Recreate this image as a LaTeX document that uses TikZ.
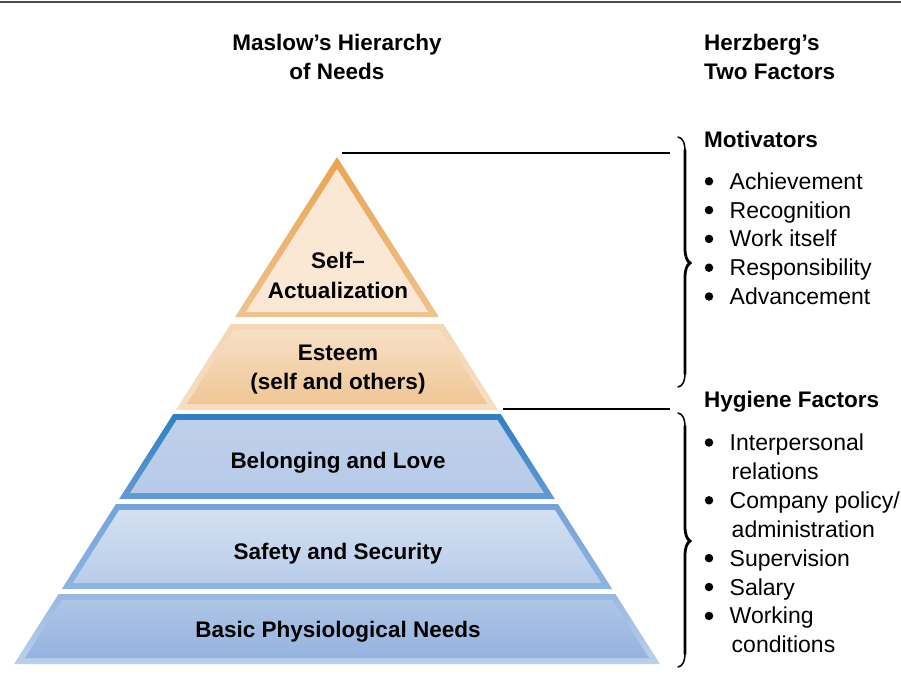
\documentclass[tikz,border=0pt]{standalone}
\usepackage{fontspec}
\setmainfont{Liberation Sans}
\usetikzlibrary{calc}
\definecolor{saBand}{HTML}{E8A553}
\definecolor{saBandB}{HTML}{EFC28E}
\definecolor{saFill}{HTML}{FAE7D4}
\definecolor{esBand}{HTML}{F4D7B4}
\definecolor{esBandB}{HTML}{F6DEC2}
\definecolor{esFillT}{HTML}{F7E0C5}
\definecolor{esFillB}{HTML}{EFC696}
\definecolor{loveBand}{HTML}{2F7FC1}
\definecolor{loveBandB}{HTML}{639AD1}
\definecolor{loveFillT}{HTML}{BDCFEA}
\definecolor{loveFillB}{HTML}{B7CAE8}
\definecolor{sfBand}{HTML}{74A3D8}
\definecolor{sfBandB}{HTML}{8EB4E0}
\definecolor{sfFillT}{HTML}{D4E0F2}
\definecolor{sfFillB}{HTML}{B8CCEA}
\definecolor{physBand}{HTML}{98B8E1}
\definecolor{physBandB}{HTML}{BBD0EC}
\definecolor{physFillT}{HTML}{AEC5E6}
\definecolor{physFillB}{HTML}{94B3DE}
\newcommand\pyrband[6]{%
 \pgfmathsetmacro\hwT{0.637*(#1-157)}%
 \pgfmathsetmacro\hwB{0.637*(#2-157)}%
 \pgfmathsetmacro\hwTi{0.637*(#1+6-157)-7.1}%
 \pgfmathsetmacro\hwBi{0.637*(#2-6-157)-7.1}%
 \path[top color=#3,bottom color=#4] ({337-\hwT},#1) -- ({337+\hwT},#1) -- ({337+\hwB},#2) -- ({337-\hwB},#2) -- cycle;
 \path[top color=#5,bottom color=#6] ({337-\hwTi},{#1+6}) -- ({337+\hwTi},{#1+6}) -- ({337+\hwBi},{#2-6}) -- ({337-\hwBi},{#2-6}) -- cycle;
}
% brace: #1 top y, #2 tip y, #3 bottom y
\newcommand\hzbrace[3]{%
 \draw[bracethin] (678,#1) .. controls (683,{#1+1}) and (685,{#1+6}) .. (685,{#1+15}) -- (685,{#2-15}) .. controls (685,{#2-6}) and (687,{#2-2}) .. (691,#2) .. controls (687,{#2+2}) and (685,{#2+6}) .. (685,{#2+15}) -- (685,{#3-15}) .. controls (685,{#3-6}) and (683,{#3-1}) .. (678,#3);
 \draw[bracethick] (685,{#1+13}) -- (685,{#2-15}) .. controls (685,{#2-6}) and (687,{#2-2}) .. (690,#2) .. controls (687,{#2+2}) and (685,{#2+6}) .. (685,{#2+15}) -- (685,{#3-13});
}
\begin{document}
\begin{tikzpicture}[x=1pt,y=-1pt,
  hd/.style={font=\fontsize{22.5}{27}\selectfont\bfseries, inner sep=0pt},
  lbl/.style={font=\fontsize{22.5}{27}\selectfont\bfseries, inner sep=0pt, anchor=base},
  body/.style={font=\fontsize{23}{28}\selectfont, inner sep=0pt, anchor=base west},
  bul/.style={circle, fill=black, inner sep=0pt, minimum size=8.5pt},
  conn/.style={line width=1.3pt, black},
  bracethin/.style={line width=1.5pt, black, line cap=round, line join=round},
  bracethick/.style={line width=2.8pt, black, line cap=round, line join=round}]
\useasboundingbox (0,0) rectangle (901,690);
\fill[white] (0,0) rectangle (901,690);
\draw[line width=1.8pt, color=black!70] (0,2) -- (901,2);

% headings
\node[hd, anchor=base] (mas1) at (337,51) {Maslow’s Hierarchy};
\node[hd, anchor=base] (mas2) at (337,80) {of Needs};
\node[hd, anchor=base west] (her1) at (704,51) {Herzberg’s};
\node[hd, anchor=base west] (her2) at (704,80) {Two Factors};

% pyramid: self-actualization triangle
\path[top color=saBand,bottom color=saBandB] (337,157) -- (438.9,317) -- (235.1,317) -- cycle;
\pgfmathsetmacro\hwSi{0.637*(312-157)-7.6}
\path[fill=saFill] (337,169) -- ({337+\hwSi},312) -- ({337-\hwSi},312) -- cycle;
\pyrband{324}{410}{esBand}{esBandB}{esFillT}{esFillB}
\pyrband{414}{499}{loveBand}{loveBandB}{loveFillT}{loveFillB}
\pyrband{504}{589}{sfBand}{sfBandB}{sfFillT}{sfFillB}
\pyrband{594}{664}{physBand}{physBandB}{physFillT}{physFillB}

% pyramid labels
\node[lbl] (sa1) at (338,268.5) {Self–};
\node[lbl] (sa2) at (338,298.3) {Actualization};
\node[lbl] (es1) at (338,360.7) {Esteem};
\node[lbl] (es2) at (338,389) {(self and others)};
\node[lbl] (bl) at (338,468.3) {Belonging and Love};
\node[lbl] (sf) at (338,559.3) {Safety and Security};
\node[lbl] (bp) at (338,637.3) {Basic Physiological Needs};

% connector lines
\coordinate (apexR) at (342,153);
\coordinate (l1end) at (670,153);
\coordinate (esR) at (503,409);
\coordinate (l2end) at (670,409);
\draw[conn] (apexR) -- (l1end);
\draw[conn] (esR) -- (l2end);

% braces
\hzbrace{137}{263}{387}
\hzbrace{413}{541}{667}

% Herzberg lists
\node[hd, anchor=base west] (mot) at (704,147) {Motivators};
\foreach \i/\yy/\tt in {1/189.3/Achievement, 2/218.1/Recognition, 3/246.9/Work itself, 4/275.7/Responsibility, 5/304.5/Advancement}{
  \node[bul] (mb\i) at (709,{\yy-8}) {};
  \node[body] (mt\i) at (729.5,\yy) {\tt};
}
\node[hd, anchor=base west] (hyg) at (704,407) {Hygiene Factors};
\foreach \i/\yy in {1/450.5, 3/508.3, 5/566.1, 6/595, 7/623.9}{
  \node[bul] (hb\i) at (709,{\yy-8}) {};
}
\node[body] (ht1) at (729.5,450.5) {Interpersonal};
\node[body] (ht2) at (731.5,479.4) {relations};
\node[body] (ht3) at (729.5,508.3) {Company policy/};
\node[body] (ht4) at (731.5,537.2) {administration};
\node[body] (ht5) at (729.5,566.1) {Supervision};
\node[body] (ht6) at (729.5,595) {Salary};
\node[body] (ht7) at (729.5,623.9) {Working};
\node[body] (ht8) at (731.5,652.8) {conditions};
\end{tikzpicture}
\end{document}
